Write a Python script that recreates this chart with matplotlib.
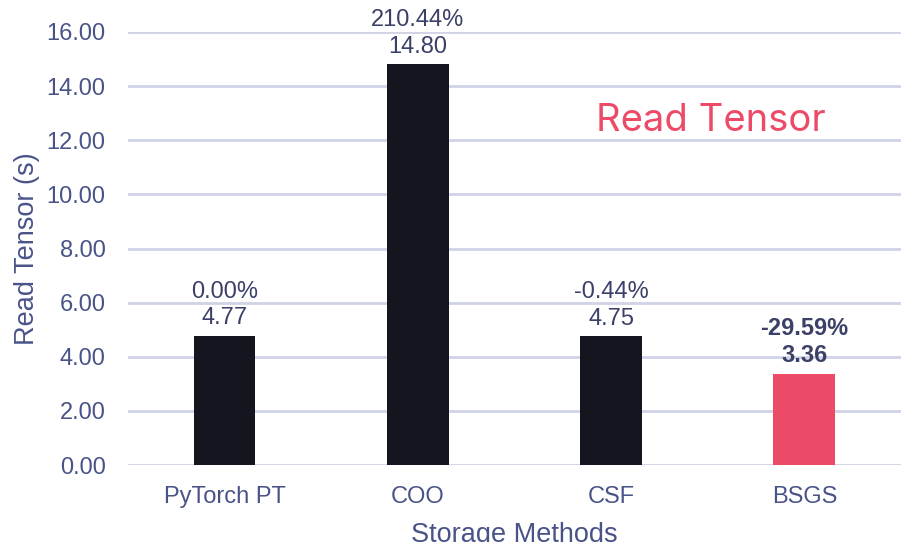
import numpy as np
import matplotlib
matplotlib.use('Agg')
import matplotlib.pyplot as plt

# data
methods = ['PyTorch PT', 'COO', 'CSF', 'BSGS']
read_time = [4.77, 14.80, 4.75, 3.36]
pct_change = ['0.00%', '210.44%', '-0.44%', '-29.59%']

plt.rcParams['font.family'] = ['Liberation Sans', 'DejaVu Sans']
axis_col = '#4a5388'
lab_col = '#3b4068'
grid_col = '#d0d3e6'
bar_cols = ['#13151f', '#13151f', '#13151f', '#ed4a68']

fig = plt.figure(figsize=(9.01, 5.42), dpi=100)
ax = fig.add_axes([0.142, 0.142, 0.858, 0.799])

x = np.arange(len(methods))
bars = ax.bar(x, read_time, width=0.32, color=bar_cols, zorder=3)

for i in range(len(methods)):
    bold = (i == len(methods) - 1)
    ax.annotate(pct_change[i] + '\n' + '%.2f' % read_time[i],
                (x[i], read_time[i]), xytext=(0, 5), textcoords='offset points',
                ha='center', va='bottom', fontsize=17, color=lab_col,
                fontweight='bold' if bold else 'normal', linespacing=1.25)

ax.set_xlim(-0.5, 3.5)
ax.set_ylim(0, 16)
ax.set_yticks(np.arange(0, 17, 2))
ax.set_yticklabels(['%.2f' % v for v in np.arange(0, 17, 2)])
ax.set_xticks(x)
ax.set_xticklabels(methods)
ax.grid(axis='y', color=grid_col, linewidth=2, zorder=0)
ax.set_axisbelow(True)
for s in ax.spines.values():
    s.set_visible(False)
ax.tick_params(axis='both', length=0, labelsize=17, labelcolor=axis_col)
ax.tick_params(axis='y', pad=16)
ax.tick_params(axis='x', pad=15)
ax.set_ylabel('Read Tensor (s)', fontsize=19.5, color=axis_col, labelpad=5)
ax.set_xlabel('Storage Methods', fontsize=19.5, color=axis_col, labelpad=10)

ax.text(0.754, 0.795, 'Read Tensor', transform=ax.transAxes, ha='center', va='center',
        fontsize=27.5, color='#ed4a68', family=['Inter', 'DejaVu Sans'])

fig.savefig('out.png', dpi=100)
